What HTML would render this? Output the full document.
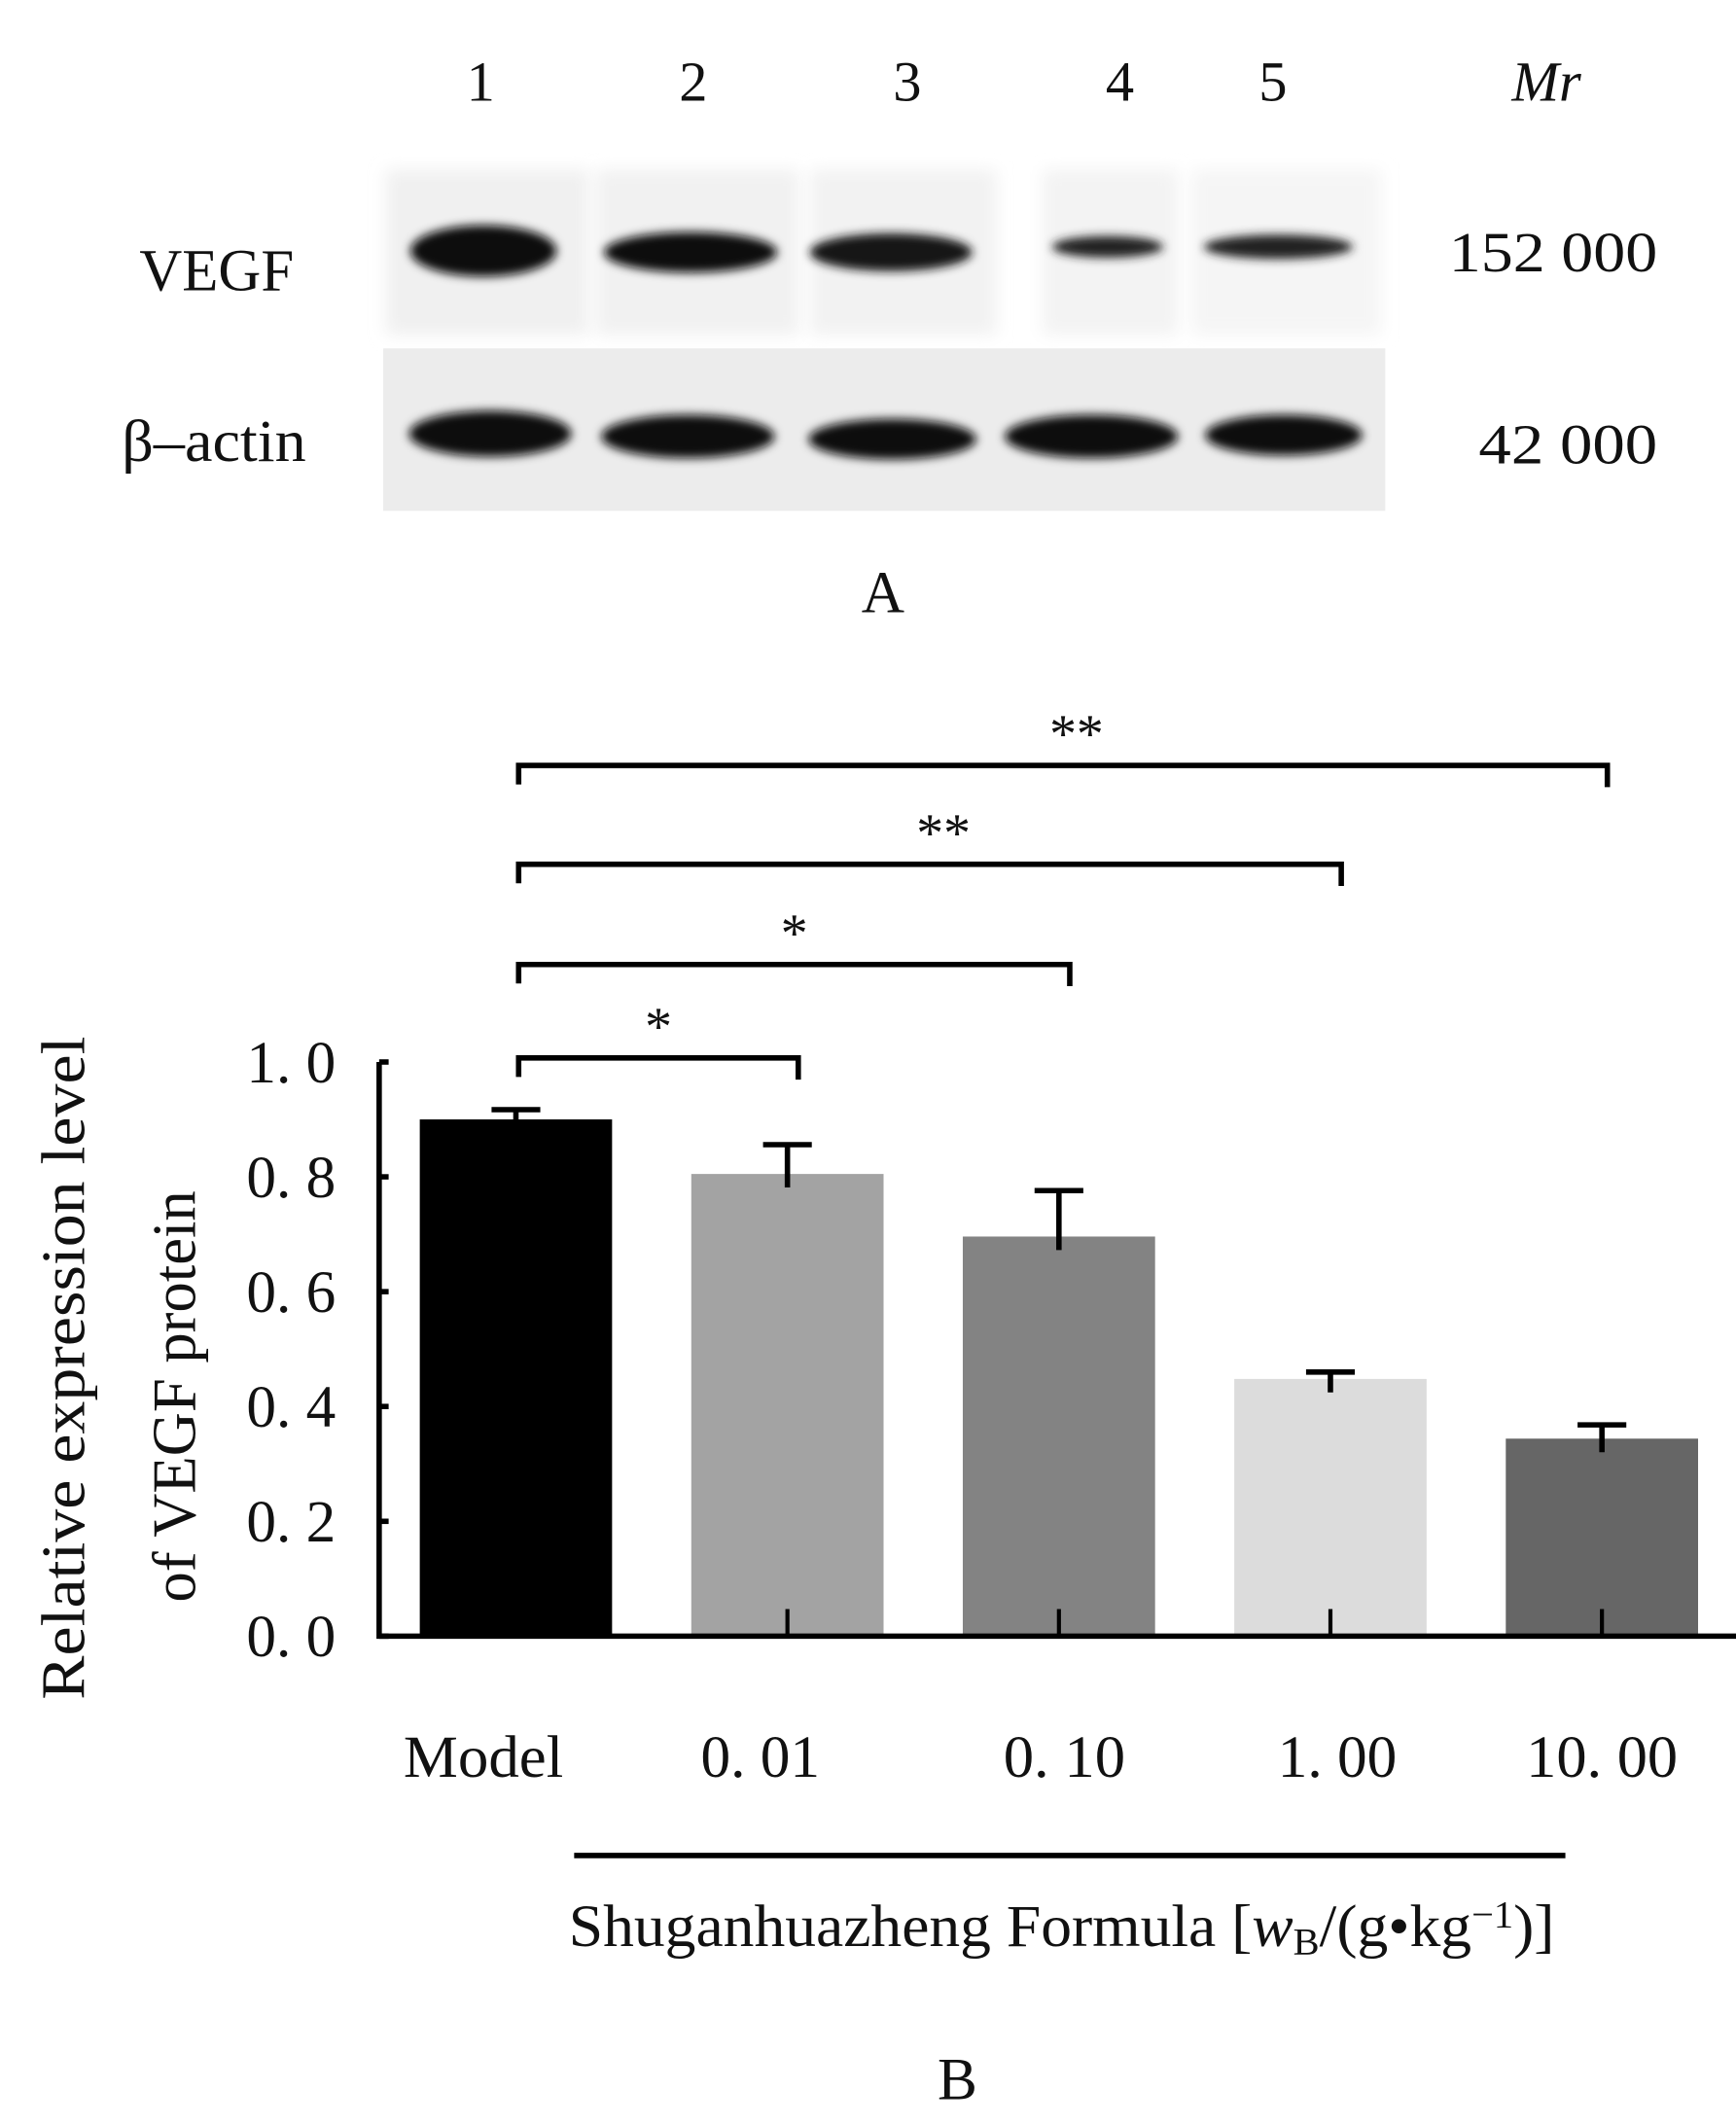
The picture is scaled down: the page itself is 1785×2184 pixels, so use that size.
<!DOCTYPE html>
<html><head><meta charset="utf-8"><style>
html,body{margin:0;padding:0;background:#fff}
svg{display:block}
text{font-family:"Liberation Serif",serif;fill:#111}
</style></head><body>
<svg width="1785" height="2184" viewBox="0 0 1282 1568" xmlns="http://www.w3.org/2000/svg">
<defs><filter id="bl" x="-20%" y="-100%" width="140%" height="300%"><feGaussianBlur stdDeviation="3.5"/></filter>
<filter id="bl2"><feGaussianBlur stdDeviation="6"/></filter></defs>
<g>
  <g font-size="42">
    <text x="355" y="74" text-anchor="middle">1</text>
    <text x="512" y="74" text-anchor="middle">2</text>
    <text x="670" y="74" text-anchor="middle">3</text>
    <text x="827" y="74" text-anchor="middle">4</text>
    <text x="940" y="74" text-anchor="middle">5</text>
    <text x="1142" y="74" text-anchor="middle" font-style="italic">Mr</text>
  </g>
  <g>
    <rect x="285" y="125" width="150" height="122" fill="#f0f0f0" filter="url(#bl2)"/>
    <rect x="440" y="125" width="150" height="122" fill="#f1f1f1" filter="url(#bl2)"/>
    <rect x="598" y="125" width="138" height="122" fill="#f2f2f2" filter="url(#bl2)"/>
    <rect x="770" y="125" width="100" height="122" fill="#f3f3f3" filter="url(#bl2)"/>
    <rect x="880" y="125" width="140" height="122" fill="#f5f5f5" filter="url(#bl2)"/>
    <ellipse cx="357" cy="185" rx="54" ry="19" fill="#0a0a0a" filter="url(#bl)"/>
    <ellipse cx="510" cy="186" rx="64" ry="15" fill="#111" filter="url(#bl)"/>
    <ellipse cx="658" cy="186" rx="60" ry="14" fill="#151515" filter="url(#bl)"/>
    <ellipse cx="818" cy="182" rx="41" ry="8" fill="#222" filter="url(#bl)"/>
    <ellipse cx="944" cy="182" rx="55" ry="9" fill="#222" filter="url(#bl)"/>
  </g>
  <g>
    <rect x="283" y="257" width="740" height="120" fill="#ececec"/>
    <ellipse cx="362" cy="320" rx="60" ry="17" fill="#0a0a0a" filter="url(#bl)"/>
    <ellipse cx="508" cy="322" rx="64" ry="16" fill="#111" filter="url(#bl)"/>
    <ellipse cx="659" cy="324" rx="62" ry="15" fill="#111" filter="url(#bl)"/>
    <ellipse cx="806" cy="322" rx="64" ry="16" fill="#111" filter="url(#bl)"/>
    <ellipse cx="948" cy="321" rx="58" ry="15" fill="#111" filter="url(#bl)"/>
  </g>
  <text x="160" y="214" font-size="44" text-anchor="middle" textLength="114" lengthAdjust="spacingAndGlyphs">VEGF</text>
  <text x="158" y="340" font-size="44" text-anchor="middle" textLength="136" lengthAdjust="spacingAndGlyphs">β–actin</text>
  <text x="1147" y="200" font-size="42" text-anchor="middle" textLength="154" lengthAdjust="spacingAndGlyphs">152 000</text>
  <text x="1158" y="342" font-size="42" text-anchor="middle" textLength="132" lengthAdjust="spacingAndGlyphs">42 000</text>
  <text x="652" y="452" font-size="44" text-anchor="middle">A</text>
</g>
<g id="chart"></g>
</svg>
<script>
const categories = ["Model","0. 01","0. 10","1. 00","10. 00"];
const values = [0.90, 0.805, 0.696, 0.448, 0.344];
const errors = [0.017, 0.051, 0.080, 0.012, 0.024];
const colors = ["#000000","#a3a3a3","#838383","#dcdcdc","#666666"];
const yTicks = [0, 0.2, 0.4, 0.6, 0.8, 1.0];
const yTickLabels = ["0. 0","0. 2","0. 4","0. 6","0. 8","1. 0"];
const sigPairs = [[0,1,"*"],[0,2,"*"],[0,3,"**"],[0,4,"**"]];

const NS="http://www.w3.org/2000/svg";
const g=document.getElementById('chart');
const x0=280, x1=1282, yBase=1208, yTop=784;
const y=v=>yBase-(yBase-yTop)*v;
const bandW=200.5, barW=142, firstCenter=381;
const xc=i=>firstCenter+i*bandW;
function mk(t,a,txt){const e=document.createElementNS(NS,t);for(const k in a)e.setAttribute(k,a[k]);if(txt!=null)e.textContent=txt;g.appendChild(e);return e;}
const labelOffsets=[-24,-20,4,5,0];
const labelWidths=[118,88,90,88,112];
values.forEach((v,i)=>{
  const r=mk('rect',{x:xc(i)-barW/2,y:y(v),width:barW,height:yBase-y(v),fill:colors[i]});
  
  
  const e=mk('path',{d:`M${xc(i)} ${y(v)+10}V${y(v+errors[i])}M${xc(i)-18} ${y(v+errors[i])}H${xc(i)+18}`,stroke:'#000','stroke-width':4,fill:'none'});
  
  
  if(i>0){const t=mk('line',{x1:xc(i),x2:xc(i),y1:yBase,y2:yBase-20,stroke:'#000','stroke-width':3});
  
  }
  const l=mk('text',{x:xc(i)+labelOffsets[i],y:1312,'font-size':44,'text-anchor':'middle',textLength:labelWidths[i],lengthAdjust:'spacingAndGlyphs'},categories[i]);
  
  
});
const ax=mk('path',{d:`M${x0} ${yTop}V${yBase}H${x1}`,stroke:'#000','stroke-width':4,fill:'none'});


yTicks.forEach((t,i)=>{
  const tk=mk('line',{x1:x0,x2:x0+7,y1:y(t),y2:y(t),stroke:'#000','stroke-width':4});
  
  
  const tl=mk('text',{x:215,y:y(t)+15,'font-size':44,'text-anchor':'middle',textLength:66,lengthAdjust:'spacingAndGlyphs'},yTickLabels[i]);
  
  
});
const brY=[781,712,638,565];
sigPairs.forEach((p,k)=>{
  const a=xc(p[0])+2,b=xc(p[1])+(p[1]==4?4:8),yy=brY[k];
  const br=mk('path',{d:`M${a} ${yy+14}V${yy}H${b}V${yy+16}`,stroke:'#000','stroke-width':4,fill:'none'});
  
  
  const s=mk('text',{x:(a+b)/2+(k==2?10:k==3?10:0),y:yy-10,'font-size':40,'text-anchor':'middle'},p[2]);
  
  
});
const t1=mk('text',{x:0,y:0,'font-size':46,'text-anchor':'middle',transform:'translate(62,1010) rotate(-90)',textLength:490,lengthAdjust:'spacingAndGlyphs'},'Relative expression  level');


const t2=mk('text',{x:0,y:0,'font-size':46,'text-anchor':'middle',transform:'translate(144,1031) rotate(-90)',textLength:304,lengthAdjust:'spacingAndGlyphs'},'of VEGF protein');


const gl=mk('line',{x1:424,x2:1156,y1:1370,y2:1370,stroke:'#000','stroke-width':4});


const xt=mk('text',{x:420,y:1437,'font-size':44,textLength:728,lengthAdjust:'spacingAndGlyphs'});


xt.innerHTML='Shuganhuazheng Formula [<tspan font-style="italic">w</tspan><tspan font-size="28" dy="6">B</tspan><tspan dy="-6">/(g•kg</tspan><tspan font-size="28" dy="-14">−1</tspan><tspan dy="14">)]</tspan>';
const pb=mk('text',{x:707,y:1550,'font-size':44,'text-anchor':'middle'},'B');


</script>
</body></html>
